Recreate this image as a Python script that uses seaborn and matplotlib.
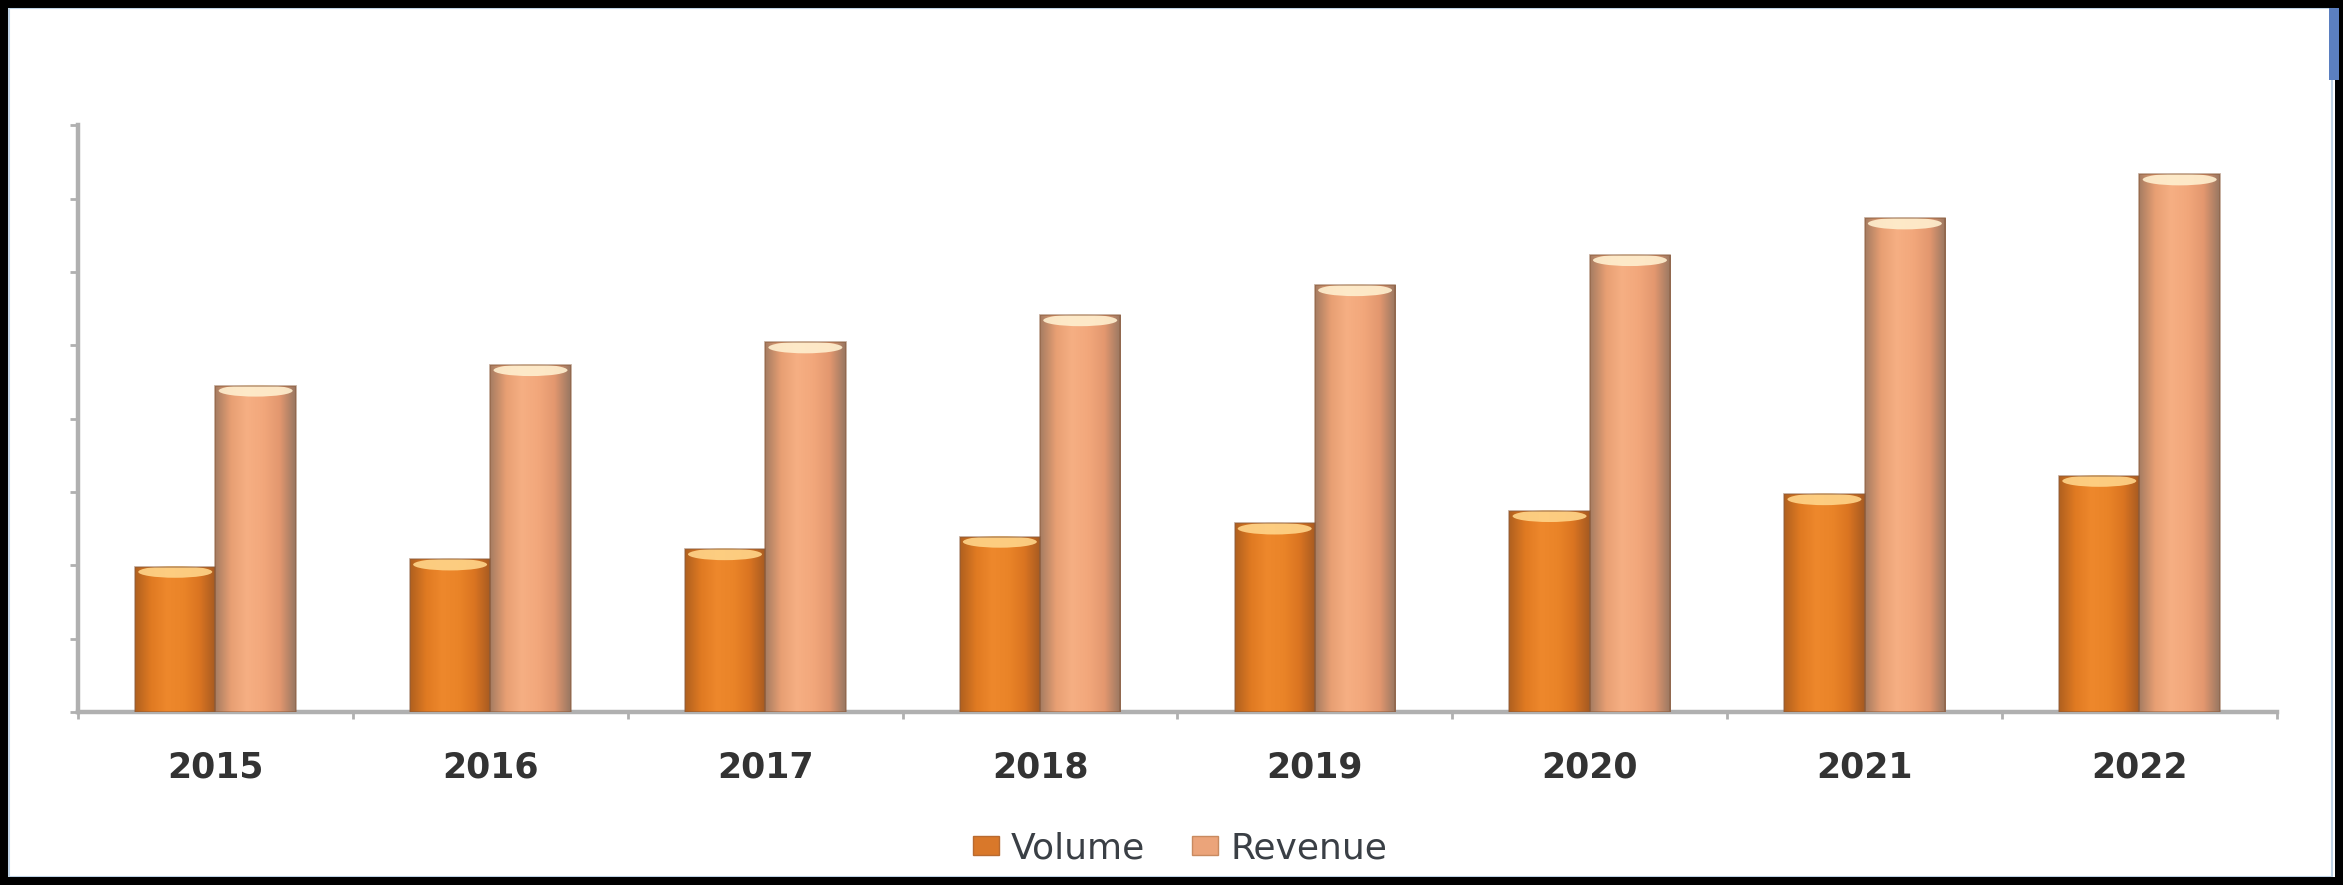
import numpy as np
import pandas as pd
import matplotlib
matplotlib.use("Agg")
import matplotlib.pyplot as plt
import seaborn as sns
from matplotlib.patches import Rectangle, Ellipse, Patch
from matplotlib.colors import LinearSegmentedColormap

years = ["2015", "2016", "2017", "2018", "2019", "2020", "2021", "2022"]
volume = [1.98, 2.08, 2.22, 2.39, 2.57, 2.74, 2.97, 3.22]
revenue = [4.45, 4.73, 5.04, 5.41, 5.82, 6.23, 6.73, 7.33]
series = ["Volume", "Revenue"]

df = pd.DataFrame({
    "year": years * 2,
    "value": volume + revenue,
    "series": ["Volume"] * len(years) + ["Revenue"] * len(years),
})

sns.set_theme(style="white")
plt.rcParams["font.family"] = ["DejaVu Sans"]

fig = plt.figure(figsize=(23.43, 8.85), dpi=100)
fig.patch.set_facecolor("white")
ax = fig.add_axes([0.0333, 0.1955, 0.9385, 0.663])

base_cols = {"Volume": "#EA8428", "Revenue": "#F2A67A"}
sns.barplot(data=df, x="year", y="value", hue="series", order=years,
            hue_order=series, palette=base_cols, width=0.585, ax=ax,
            legend=False, saturation=1, edgecolor="none", linewidth=0)

ax.set_xlim(-0.5, len(years) - 0.5)
ax.set_ylim(0, 8)

cmaps = {
    "Volume": LinearSegmentedColormap.from_list(
        "vol", ["#B0601F", "#E07A22", "#EE882C", "#EA8428", "#DA7421", "#A55A22"]),
    "Revenue": LinearSegmentedColormap.from_list(
        "rev", ["#A57C62", "#E89F73", "#F6AF83", "#F2A77B", "#E3976F", "#977762"]),
}
rim = {"Volume": "#FFD58A", "Revenue": "#FFF0D0"}
grad = np.linspace(0, 1, 256).reshape(1, -1)

bars = [p for p in ax.patches if isinstance(p, Rectangle) and p.get_height() > 0]
n = len(years)
for i, p in enumerate(bars):
    s = series[i // n]
    x0, w, h = p.get_x(), p.get_width(), p.get_height()
    im = ax.imshow(grad, cmap=cmaps[s], extent=[x0, x0 + w, 0, h],
                   aspect="auto", zorder=3, interpolation="bicubic")
    im.set_clip_path(p)
    ax.add_patch(Ellipse((x0 + w / 2, h - 0.07), w * 0.92, 0.16,
                         facecolor=rim[s], edgecolor="none", zorder=4, alpha=0.9))
    ax.add_patch(Rectangle((x0, 0), w, h, fill=False, edgecolor="#8A5A3A",
                           linewidth=1.2, alpha=0.55, zorder=5))

ax.set_xlim(-0.5, len(years) - 0.5)
ax.set_ylim(0, 8)

for side in ["top", "right"]:
    ax.spines[side].set_visible(False)
for side in ["left", "bottom"]:
    ax.spines[side].set_color("#B0B0B0")
    ax.spines[side].set_linewidth(3.2)

ax.set_yticks(np.arange(0, 9, 1))
ax.set_yticklabels([])
ax.tick_params(axis="y", which="major", direction="out", length=6, width=2,
               color="#B0B0B0", left=True)
ax.set_xticks(range(len(years)))
ax.set_xticklabels(years, fontsize=25, fontweight="bold", color="#333333")
ax.tick_params(axis="x", which="major", length=0, pad=28)
ax.set_xticks(np.arange(-0.5, len(years), 1), minor=True)
ax.tick_params(axis="x", which="minor", direction="out", length=5, width=2,
               color="#B0B0B0", bottom=True)
ax.set_xlabel("")
ax.set_ylabel("")
ax.grid(False)

handles = [Patch(facecolor="#D9782A", edgecolor="#B86A30", label="Volume"),
           Patch(facecolor="#EBA47A", edgecolor="#C88A60", label="Revenue")]
fig.legend(handles=handles, loc="center", bbox_to_anchor=(0.5036, 0.041),
           ncol=2, frameon=False, fontsize=26, handlelength=0.72,
           handleheight=0.42, handletextpad=0.33, columnspacing=1.3,
           labelcolor="#3A3F45", borderaxespad=0, borderpad=0)

# figure frame
fig.add_artist(Rectangle((0, 0), 1, 1, transform=fig.transFigure, fill=False,
                         edgecolor="black", linewidth=11.5, zorder=10))
fig.add_artist(Rectangle((0.0040, 0.0085), 0.9915, 0.982, transform=fig.transFigure,
                         fill=False, edgecolor="#BFD3E6", linewidth=1.5, zorder=9))
fig.add_artist(Rectangle((0.9942, 0.91), 0.0040, 0.081, transform=fig.transFigure,
                         facecolor="#5B7FC0", edgecolor="none", zorder=11))

fig.savefig("out.png", dpi=100, facecolor="white")
